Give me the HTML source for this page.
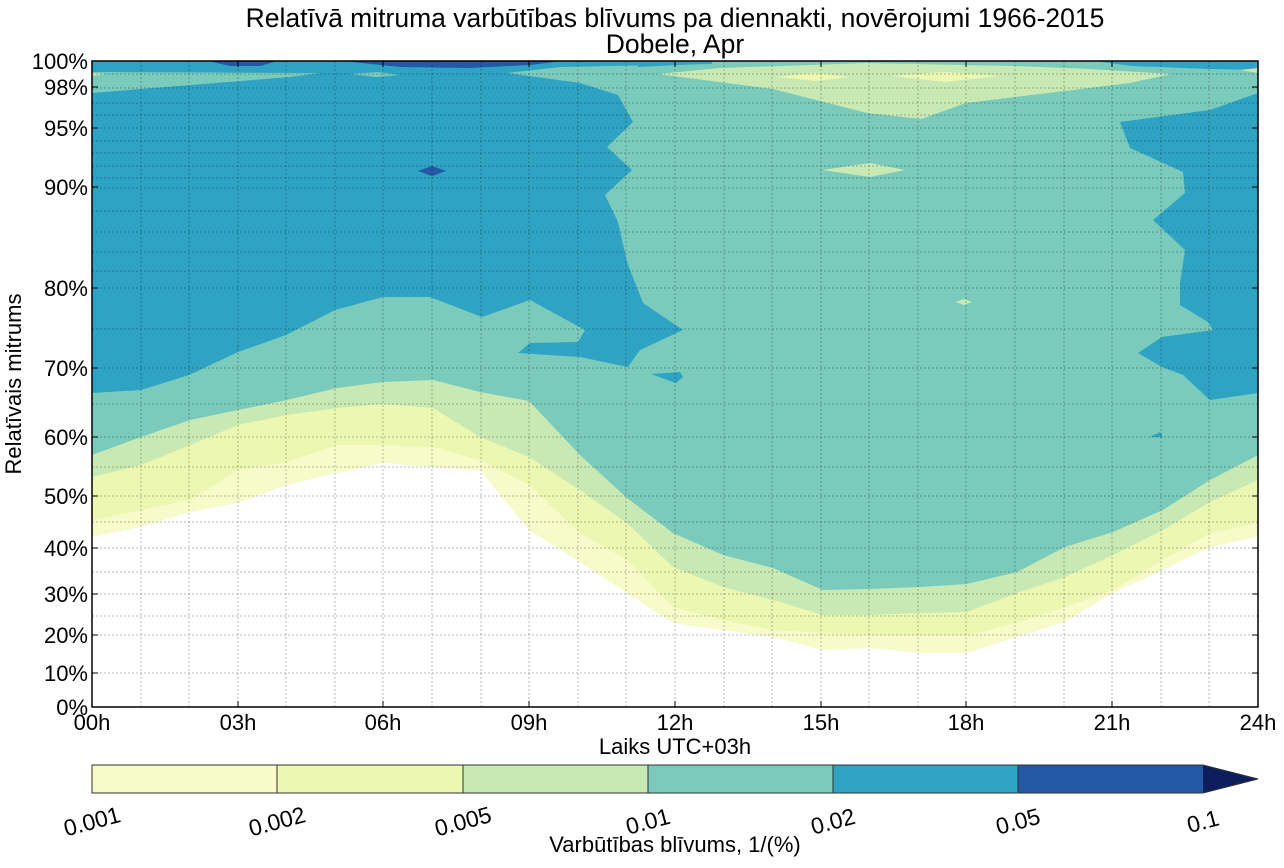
<!DOCTYPE html>
<html><head><meta charset="utf-8"><style>
html,body{margin:0;padding:0;background:#fff}
svg text{font-family:"Liberation Sans",Arial,sans-serif;fill:#000}
</style></head><body>
<svg width="1284" height="863" viewBox="0 0 1284 863" xmlns="http://www.w3.org/2000/svg">
<text x="675" y="27" font-size="26.5" text-anchor="middle">Relatīvā mitruma varbūtības blīvums pa diennakti, novērojumi 1966-2015</text>
<text x="675" y="53" font-size="26.5" text-anchor="middle">Dobele, Apr</text>
<defs><clipPath id="c"><rect x="92" y="61" width="1166" height="646"/></clipPath></defs>
<g clip-path="url(#c)">
<rect x="92" y="61" width="1166" height="646" fill="#7acbbb"/>
<polygon fill="#c8e9b4" points="658,74 720,68 867,63 1015,66 1089,69 1171,74 1130,83 1048,93 966,103 921,119 867,113 773,89"/>
<polygon fill="#ecf7b1" points="777,77 814,73 851,77 814,81"/>
<polygon fill="#ecf7b1" points="892,76 945,72 999,76 945,82"/>
<polygon fill="#c8e9b4" points="822,170 870,163 905,170 870,177"/>
<polygon fill="#c8e9b4" points="955,302 964,299 972,302 964,305"/>
<polygon fill="#2fa3c3" points="92,61 712,61 712,64 560,67 507,73 580,83 618,95 633,122 607,147 632,170 605,195 618,222 627,262 643,303 683,330 640,350 628,367 580,357 518,353 530,343 578,342 585,330 530,300 482,317 430,297 383,297 335,310 286,335 238,352 189,375 141,390 92,393"/>
<polygon fill="#7acbbb" points="92,72 320,73 290,77 92,93"/>
<polygon fill="#c8e9b4" points="92,73 106,74 92,76"/>
<polygon fill="#7acbbb" points="350,74 378,72 400,75 376,77"/>
<polygon fill="#2358a6" points="208,61 277,61 260,66 230,66"/>
<polygon fill="#2358a6" points="343,61 563,61 530,65 470,68 400,67"/>
<polygon fill="#2358a6" points="418,171 432,166 446,171 432,176"/>
<polygon fill="#2fa3c3" points="651,374 680,372 683,377 676,383"/>
<polygon fill="#2fa3c3" points="1150,437 1160,432 1163,437"/>
<polygon fill="#2fa3c3" points="638,61 712,61 700,64 638,67"/>
<polygon fill="#2fa3c3" points="1094,61 1258,61 1258,70 1210,69 1132,66"/>
<polygon fill="#c8e9b4" points="1240,70 1258,68 1258,73"/>
<polygon fill="#2fa3c3" points="1120,122 1210,110 1258,93 1258,393 1210,400 1183,375 1162,367 1138,353 1162,337 1213,330 1208,322 1180,305 1180,283 1185,250 1153,220 1185,193 1183,172 1130,148"/>
<polygon fill="#c8e9b4" points="92,455 141,437 190,420 238,410 287,400 337,388 383,382 433,380 480,392 529,401 580,455 627,498 673,533 723,555 773,568 823,590 870,589 920,587 967,584 1017,572 1065,547 1113,532 1163,510 1210,480 1258,455 1258,707 92,707"/>
<polygon fill="#ecf7b1" points="92,477 141,465 190,445 238,425 287,415 337,408 383,404 433,408 480,437 529,457 580,490 627,523 673,567 723,587 773,600 823,615 870,615 920,613 967,612 1017,593 1065,577 1113,555 1163,530 1210,502 1258,480 1258,707 92,707"/>
<polygon fill="#f6fbc9" points="92,520 141,510 190,500 238,470 287,462 337,445 383,445 433,447 480,460 529,485 580,533 627,560 673,607 723,620 773,630 823,633 870,635 920,635 967,635 1017,623 1065,607 1113,590 1163,560 1210,533 1258,523 1258,707 92,707"/>
<polygon fill="#ffffff" points="92,537 141,527 190,512 238,503 287,485 337,473 383,463 433,467 480,470 529,530 580,562 627,593 673,623 723,630 773,637 823,650 870,648 920,653 967,653 1017,637 1065,622 1113,593 1163,570 1210,547 1258,537 1258,707 92,707"/>
</g>
<g stroke="#000" stroke-opacity="0.27" stroke-width="1" stroke-dasharray="2,2" fill="none">
<path d="M92 74H1258M92 88H1258M92 103H1258M92 115H1258M92 128H1258M92 141H1258M92 153H1258M92 166H1258M92 178H1258M92 188H1258M92 211H1258M92 232H1258M92 252H1258M92 271H1258M92 288H1258M92 329H1258M92 368H1258M92 404H1258M92 437H1258M92 467H1258M92 496H1258M92 522H1258M92 548H1258M92 572H1258M92 594H1258M92 616H1258M92 635H1258M92 673H1258"/>
<path d="M141 61V707M189 61V707M238 61V707M286 61V707M335 61V707M383 61V707M432 61V707M481 61V707M529 61V707M578 61V707M626 61V707M675 61V707M724 61V707M772 61V707M821 61V707M869 61V707M918 61V707M966 61V707M1015 61V707M1064 61V707M1112 61V707M1161 61V707M1209 61V707"/>
</g>
<rect x="92" y="61" width="1166" height="646" fill="none" stroke="#000" stroke-width="1.5"/>
<g stroke="#000" stroke-width="1">
<path d="M238 707v-6M383 707v-6M529 707v-6M675 707v-6M821 707v-6M966 707v-6M1112 707v-6M238 61v6M383 61v6M529 61v6M675 61v6M821 61v6M966 61v6M1112 61v6"/>
<path d="M92 87h6M92 128h6M92 187h6M92 288h6M92 368h6M92 437h6M92 496h6M92 548h6M92 594h6M92 635h6M92 673h6M1258 87h-6M1258 128h-6M1258 187h-6M1258 288h-6M1258 368h-6M1258 437h-6M1258 496h-6M1258 548h-6M1258 594h-6M1258 635h-6M1258 673h-6"/>
</g>
<g font-size="22" text-anchor="end">
<text x="88" y="69">100%</text><text x="88" y="95">98%</text><text x="88" y="136">95%</text><text x="88" y="195">90%</text><text x="88" y="296">80%</text><text x="88" y="376">70%</text><text x="88" y="445">60%</text><text x="88" y="504">50%</text><text x="88" y="556">40%</text><text x="88" y="602">30%</text><text x="88" y="643">20%</text><text x="88" y="681">10%</text><text x="88" y="715">0%</text>
</g>
<g font-size="22" text-anchor="middle">
<text x="92" y="730">00h</text><text x="238" y="730">03h</text><text x="383" y="730">06h</text><text x="529" y="730">09h</text><text x="675" y="730">12h</text><text x="821" y="730">15h</text><text x="966" y="730">18h</text><text x="1112" y="730">21h</text><text x="1258" y="730">24h</text>
<text x="675" y="754">Laiks UTC+03h</text>
<text x="675" y="852">Varbūtības blīvums, 1/(%)</text>
</g>
<text font-size="22" text-anchor="middle" transform="translate(21,384) rotate(-90)">Relatīvais mitrums</text>
<rect x="92" y="765" width="185" height="28" fill="#f6fbc9"/>
<rect x="277" y="765" width="186" height="28" fill="#ecf7b1"/>
<rect x="463" y="765" width="185" height="28" fill="#c8e9b4"/>
<rect x="648" y="765" width="185" height="28" fill="#7acbbb"/>
<rect x="833" y="765" width="185" height="28" fill="#2fa3c3"/>
<rect x="1018" y="765" width="185" height="28" fill="#2358a6"/>
<polygon points="1203,765 1258,779 1203,793" fill="#0c1f5c"/>
<g stroke="#333" stroke-width="1" fill="none">
<path d="M277 765v28M463 765v28M648 765v28M833 765v28M1018 765v28"/>
<polygon points="92,765 1203,765 1258,779 1203,793 92,793"/>
</g>
<g font-size="23" text-anchor="middle">
<text transform="translate(94,829) rotate(-15)">0.001</text>
<text transform="translate(279,829) rotate(-15)">0.002</text>
<text transform="translate(465,829) rotate(-15)">0.005</text>
<text transform="translate(650,829) rotate(-15)">0.01</text>
<text transform="translate(835,829) rotate(-15)">0.02</text>
<text transform="translate(1020,829) rotate(-15)">0.05</text>
<text transform="translate(1205,829) rotate(-15)">0.1</text>
</g>
</svg>
</body></html>
